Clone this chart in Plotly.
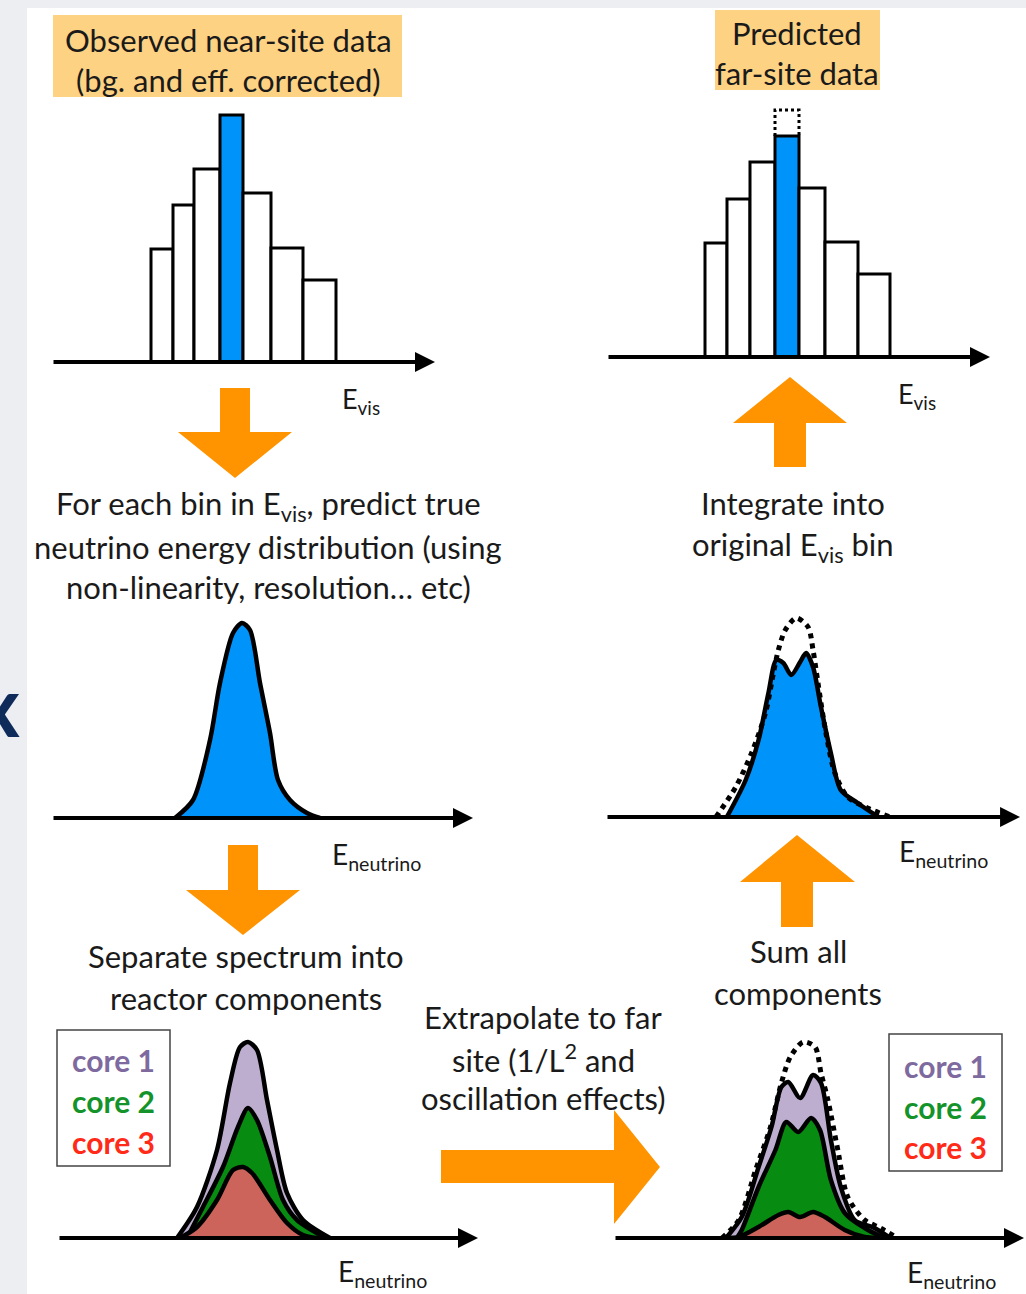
import plotly.graph_objects as go

W, H = 1026, 1294

# --- DATA (arbitrary units) ---
# near-site E_vis histogram
near_edges = [99, 121, 142, 168, 191, 219, 251, 284]
near_counts = [113, 157, 193, 247, 169, 114, 82]
# predicted far-site E_vis histogram
far_edges = [98, 120, 143, 168, 192, 218, 251, 283]
far_counts = [114, 158, 195, 221, 169, 115, 83]
highlight_bin = 3

# true neutrino energy distribution for the highlighted bin (near site)
near_nu_x = [123, 141, 158, 168, 181, 190, 198, 208, 218, 226, 238, 255, 268]
near_nu_y = [0, 18, 78, 135, 185, 195, 188, 135, 85, 38, 18, 5, 0]

# far-site neutrino energy distribution (solid) and unoscillated (dotted)
far_nu_x = [122, 141, 154, 164, 172, 179, 187, 196, 202, 209, 217, 227, 237, 254, 275]
far_nu_y = [0, 37, 77, 124, 157, 154, 142, 155, 164, 150, 110, 64, 27, 14, 0]
far_noosc_x = [111, 131, 147, 161, 169, 174, 181, 192, 204, 209, 214, 222, 231, 244, 264, 287]
far_noosc_y = [0, 30, 64, 104, 144, 167, 187, 199, 190, 167, 134, 84, 44, 20, 9, 0]

# near-site reactor components (cumulative tops: all cores, cores 2+3, core 3)
near_all_x = [119, 139, 159, 172, 182, 190, 199, 209, 219, 229, 245, 272]
near_all_y = [0, 31, 88, 155, 191, 196, 188, 138, 88, 45, 18, 0]
near_c23_x = [129, 145, 165, 180, 190, 199, 212, 225, 239, 268]
near_c23_y = [0, 31, 71, 111, 130, 118, 81, 38, 18, 0]
near_c3_x = [122, 139, 159, 175, 185, 194, 212, 229, 245, 259]
near_c3_y = [0, 11, 38, 68, 71, 65, 38, 15, 3, 0]

# far-site reactor components (cumulative) and unoscillated total
far_all_x = [113, 129, 146, 159, 169, 176, 188, 201, 209, 219, 229, 243, 263, 279]
far_all_y = [0, 21, 71, 111, 151, 156, 140, 163, 155, 98, 51, 18, 10, 0]
far_c23_x = [124, 129, 146, 163, 174, 186, 199, 208, 219, 233, 253, 273]
far_c23_y = [0, 8, 51, 88, 116, 106, 120, 108, 58, 25, 10, 0]
far_c3_x = [113, 126, 146, 166, 176, 188, 201, 213, 233, 253, 266]
far_c3_y = [0, 1, 11, 23, 26, 21, 26, 21, 8, 1, 0]
far_tot_noosc_x = [109, 126, 143, 158, 169, 178, 191, 203, 209, 216, 226, 236, 253, 269, 286]
far_tot_noosc_y = [0, 18, 68, 111, 155, 181, 196, 191, 165, 138, 88, 41, 18, 10, 0]

core_labels = ["core 1", "core 2", "core 3"]

# --- STYLE ---
BLUE = "#0093F9"
ORANGE = "#FF9400"
BOX_ORANGE = "#FED283"
CORE_FILL = ["#BDAED0", "#078B10", "#CC645C"]
CORE_TEXT = ["#7E6A9E", "#14932A", "#FF2A17"]
INK = "#1A1A1A"
FONT = "Lato"

# panel placement in pixels: (left, right, baseline, top)
PANELS = [
    (52, 440, 362, 100),   # 1 near hist
    (607, 995, 357, 95),   # 2 far hist
    (52, 476, 818, 600),   # 3 near nu
    (606, 1030, 817, 600), # 4 far nu
    (58, 480, 1238, 1020), # 5 near cores
    (614, 1030, 1238, 1020),  # 6 far cores
]
AXIS_LEN = [383, 383, 421, 418, 420, 414]


def ax_ids(i):
    return ("x" if i == 1 else f"x{i}"), ("y" if i == 1 else f"y{i}")


def pp(x, y):
    return x / W, 1 - y / H


def poly(points):
    pts = [pp(x, y) for x, y in points]
    return "M " + " L ".join(f"{a:.5f},{b:.5f}" for a, b in pts) + " Z"


fig = go.Figure()

# histograms
for i, (edges, counts) in ((1, (near_edges, near_counts)), (2, (far_edges, far_counts))):
    xa, ya = ax_ids(i)
    centers = [(a + b) / 2 for a, b in zip(edges[:-1], edges[1:])]
    widths = [b - a for a, b in zip(edges[:-1], edges[1:])]
    colors = [BLUE if k == highlight_bin else "white" for k in range(len(counts))]
    fig.add_trace(go.Bar(x=centers, y=counts, width=widths, marker=dict(color=colors, line=dict(color="black", width=3)),
                         xaxis=xa, yaxis=ya, showlegend=False, hoverinfo="skip"))

# dotted outline: near-site height of the highlighted bin on the far histogram
e0, e1 = far_edges[highlight_bin], far_edges[highlight_bin + 1]
fig.add_trace(go.Scatter(x=[e0, e0, e1, e1], y=[far_counts[highlight_bin], near_counts[highlight_bin],
                                                 near_counts[highlight_bin], far_counts[highlight_bin]],
                         mode="lines", line=dict(color="black", width=3, dash="dot"),
                         xaxis="x2", yaxis="y2", showlegend=False, hoverinfo="skip"))


def curve(x, y, i, fill=None, dash=None, width=4.5):
    xa, ya = ax_ids(i)
    fig.add_trace(go.Scatter(
        x=x, y=y, mode="lines", line=dict(color="black", width=width, shape="spline", smoothing=0.8, dash=dash),
        fill="tozeroy" if fill else None, fillcolor=fill, xaxis=xa, yaxis=ya,
        showlegend=False, hoverinfo="skip"))


curve(near_nu_x, near_nu_y, 3, fill=BLUE)
curve(far_nu_x, far_nu_y, 4, fill=BLUE)
curve(far_noosc_x, far_noosc_y, 4, dash="dot", width=5)

curve(near_all_x, near_all_y, 5, fill=CORE_FILL[0])
curve(near_c23_x, near_c23_y, 5, fill=CORE_FILL[1])
curve(near_c3_x, near_c3_y, 5, fill=CORE_FILL[2])

curve(far_all_x, far_all_y, 6, fill=CORE_FILL[0])
curve(far_c23_x, far_c23_y, 6, fill=CORE_FILL[1])
curve(far_c3_x, far_c3_y, 6, fill=CORE_FILL[2])
curve(far_tot_noosc_x, far_tot_noosc_y, 6, dash="dot", width=5)

layout_axes = {}
annotations = []
for i, (x0, x1, base, top) in enumerate(PANELS, start=1):
    xa, ya = ax_ids(i)
    xkey = "xaxis" if i == 1 else f"xaxis{i}"
    ykey = "yaxis" if i == 1 else f"yaxis{i}"
    layout_axes[xkey] = dict(domain=[x0 / W, min(x1 / W, 1)], range=[0, x1 - x0], visible=False, anchor=ya, fixedrange=True)
    layout_axes[ykey] = dict(domain=[1 - base / H, 1 - top / H], range=[0, base - top], visible=False, anchor=xa, fixedrange=True)
    # energy axis with arrow
    annotations.append(dict(x=AXIS_LEN[i - 1], y=0, ax=0, ay=0, xref=xa, yref=ya, axref=xa, ayref=ya,
                            text="", showarrow=True, arrowhead=2, arrowsize=1.0, arrowwidth=4, arrowcolor="black",
                            standoff=0, startstandoff=0))


def label(text, x, y, size=31, color=INK, bold=False, xanchor="center"):
    px_, py_ = pp(x, y)
    annotations.append(dict(x=px_, y=py_, xref="paper", yref="paper", text=f"<b>{text}</b>" if bold else text,
                            showarrow=False, xanchor=xanchor, yanchor="middle",
                            font=dict(family=FONT, size=size, color=color)))


# axis labels
label("E<sub>vis</sub>", 361, 400, size=27)
label("E<sub>vis</sub>", 917, 395, size=27)
label("E<sub>neutrino</sub>", 376, 856, size=28)
label("E<sub>neutrino</sub>", 943, 853, size=28)
label("E<sub>neutrino</sub>", 382, 1273, size=28)
label("E<sub>neutrino</sub>", 951, 1274, size=28)

# captions
label("Observed near-site data", 228, 40)
label("(bg. and eff. corrected)", 228, 80)
label("Predicted", 797, 33)
label("far-site data", 797, 73)
label("For each bin in E<sub>vis</sub>, predict true", 268, 505)
label("neutrino energy distribution (using", 268, 547)
label("non-linearity, resolution… etc)", 268, 587)
label("Integrate into", 793, 503)
label("original E<sub>vis</sub> bin", 793, 546)
label("Separate spectrum into", 246, 956)
label("reactor components", 246, 998)
label("Sum all", 798, 951)
label("components", 798, 993)
label("Extrapolate to far", 543, 1017)
label("site (1/L<sup>2</sup> and", 543, 1058)
label("oscillation effects)", 543, 1098)

# legends
for cx, ys in ((113, (1060, 1101, 1142)), (945, (1066, 1107, 1147))):
    for name, col, yy in zip(core_labels, CORE_TEXT, ys):
        label(name, cx, yy, size=30, color=col, bold=True)

# edge glyph from neighbouring slide content
label("x", -2, 704, size=84, color="#0E2B5A", bold=True)

shapes = [
    dict(type="rect", xref="paper", yref="paper", x0=27 / W, x1=1, y0=0, y1=1 - 8 / H,
         fillcolor="white", line=dict(width=0), layer="below"),
    dict(type="rect", xref="paper", yref="paper", x0=53 / W, x1=402 / W, y0=1 - 97 / H, y1=1 - 15 / H,
         fillcolor=BOX_ORANGE, line=dict(width=0), layer="below"),
    dict(type="rect", xref="paper", yref="paper", x0=715 / W, x1=880 / W, y0=1 - 90 / H, y1=1 - 10 / H,
         fillcolor=BOX_ORANGE, line=dict(width=0), layer="below"),
    dict(type="rect", xref="paper", yref="paper", x0=57 / W, x1=170 / W, y0=1 - 1166 / H, y1=1 - 1030 / H,
         fillcolor="white", line=dict(color="#444444", width=1.5)),
    dict(type="rect", xref="paper", yref="paper", x0=889 / W, x1=1002 / W, y0=1 - 1171 / H, y1=1 - 1034 / H,
         fillcolor="white", line=dict(color="#444444", width=1.5)),
]

# big orange process arrows
arrow_polys = [
    [(220, 388), (250, 388), (250, 432), (292, 432), (235, 478), (178, 432), (220, 432)],
    [(774, 467), (806, 467), (806, 423), (847, 423), (790, 377), (733, 423), (774, 423)],
    [(228, 845), (258, 845), (258, 890), (300, 890), (243, 935), (186, 890), (228, 890)],
    [(781, 927), (813, 927), (813, 882), (855, 882), (797, 835), (740, 882), (781, 882)],
    [(441, 1150), (614, 1150), (614, 1110), (660, 1167), (614, 1224), (614, 1183), (441, 1183)],
]
for pts in arrow_polys:
    shapes.append(dict(type="path", xref="paper", yref="paper", path=poly(pts),
                       fillcolor=ORANGE, line=dict(width=0)))

fig.update_layout(
    width=W, height=H, autosize=False,
    margin=dict(l=0, r=0, t=0, b=0),
    paper_bgcolor="#ECEEF2", plot_bgcolor="rgba(0,0,0,0)",
    shapes=shapes, annotations=annotations,
    font=dict(family=FONT, color=INK),
    **layout_axes,
)

fig.write_html("out.html", config={"displayModeBar": False},
               post_script="document.body.style.margin='0';document.body.style.overflow='hidden';")
